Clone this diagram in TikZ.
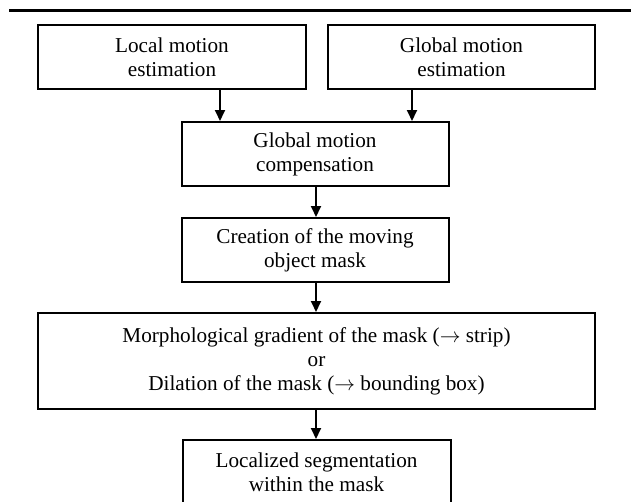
\documentclass[tikz,border=0pt]{standalone}
\usepackage{fontspec}
\setmainfont{Liberation Serif}
\usetikzlibrary{arrows.meta}
\tikzset{
  box/.style={draw=black, line width=2pt, inner sep=0pt, align=center,
    font=\fontsize{21.2}{24}\selectfont},
  arr/.style={draw=black, line width=1.8pt, -{Triangle[width=10pt,length=11pt]}},
}
\begin{document}
\begin{tikzpicture}[x=1pt,y=-1pt]
\useasboundingbox (0,0) rectangle (631,501);
\draw[line width=3pt] (9,10) -- (631,10);
\node[box, minimum width=268pt, minimum height=64pt] (b1) at (172,57) {Local motion\\estimation};
\node[box, minimum width=267pt, minimum height=64pt] (b2) at (461.5,57) {Global motion\\estimation};
\node[box, minimum width=267pt, minimum height=64pt] (b3) at (315,154) {Global motion\\compensation};
\node[box, minimum width=267pt, minimum height=64pt] (b4) at (315,250) {Creation of the moving\\object mask};
\node[box, minimum width=557pt, minimum height=96pt] (b5) at (316.5,361) {Morphological gradient of the mask ($\rightarrow$ strip)\\or\\Dilation of the mask ($\rightarrow$ bounding box)};
\node[box, minimum width=268pt, minimum height=64pt] (b6) at (316.5,472) {Localized segmentation\\within the mask};
\coordinate (c1) at (220,0);
\coordinate (c2) at (412,0);
\coordinate (c3) at (316,0);
\draw[arr] (b1.south -| c1) -- (b3.north -| c1);
\draw[arr] (b2.south -| c2) -- (b3.north -| c2);
\draw[arr] (b3.south -| c3) -- (b4.north -| c3);
\draw[arr] (b4.south -| c3) -- (b5.north -| c3);
\draw[arr] (b5.south -| c3) -- (b6.north -| c3);
\end{tikzpicture}
\end{document}
